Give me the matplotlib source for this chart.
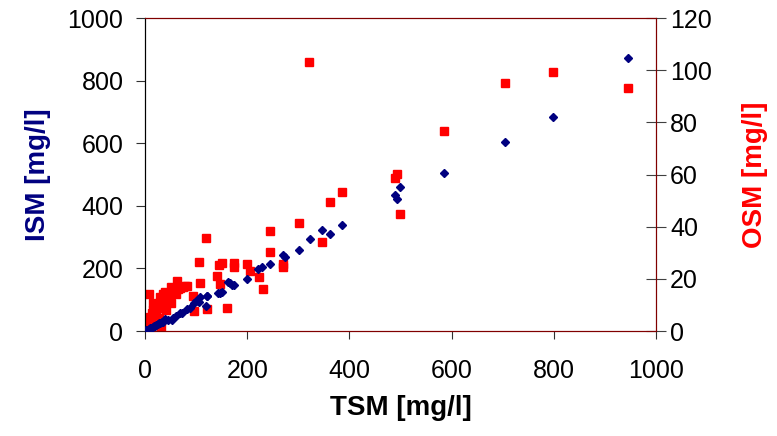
import matplotlib
matplotlib.use('Agg')
import matplotlib.pyplot as plt

plt.rcParams['font.family'] = ['Liberation Sans', 'DejaVu Sans']

# TSM vs ISM (left axis)
tsm_ism = [2, 5, 8, 10, 12, 15, 18, 20, 22, 25, 28, 30, 33, 36, 39, 45, 52, 55, 60, 68,
           72, 82, 88, 95, 100, 106, 107, 119, 121, 122, 143, 147, 150, 162, 166, 170, 174,
           199, 222, 229, 245, 271, 273, 302, 322, 346, 363, 386, 489, 494, 499, 585, 704,
           799, 945]
ism = [2, 4, 7, 9, 10, 12, 15, 17, 19, 22, 24, 26, 29, 30, 37, 35, 35, 40, 47, 56,
       57, 69, 75, 88, 95, 94, 110, 81, 112, 113, 120, 121, 125, 157, 154, 148, 147,
       167, 199, 204, 214, 243, 238, 258, 293, 323, 310, 338, 434, 421, 459, 506, 603,
       683, 871]

# TSM vs OSM (right axis)
tsm_osm = [0, 2, 4, 5, 8, 10, 12, 14, 16, 18, 20, 22, 25, 28, 30, 32, 36, 40, 42, 45,
           48, 50, 55, 60, 65, 69, 74, 78, 82, 8.4, 16, 30, 35, 40, 50, 62, 94.5, 96.5,
           105, 108, 119, 121, 141.5, 144, 147, 150.5, 161, 174, 174, 199, 205.5, 223,
           230, 244.6, 244.6, 271, 271, 301, 321.6, 345.7, 363, 385.5, 489, 494, 499,
           585, 704, 799, 945]
osm = [1.5, 3, 1, 4, 2, 5.5, 3, 7, 8, 4, 2.3, 6, 9, 5, 10, 1.6, 12, 9, 8, 13,
       11, 10.6, 15, 14, 16, 16.4, 17, 17.3, 17.3, 14, 10.6, 13, 14, 15, 17, 19, 13.5, 7.8,
       26.6, 18.5, 35.8, 8.3, 21.2, 25.3, 17.9, 26, 8.8, 26, 24.4, 25.7, 23.1, 20.8,
       16, 38.5, 30.4, 25.7, 24.4, 41.5, 103, 34.2, 49.6, 53.2, 58.8, 60.3, 45,
       76.7, 95, 99.3, 93]

fig = plt.figure(figsize=(7.77, 4.36), dpi=100)
ax = fig.add_axes([0.1866, 0.2408, 0.6577, 0.7179])
ax2 = ax.twinx()

ax.plot(tsm_ism, ism, linestyle='none', marker='D', markersize=4, color='#000080', zorder=3)
ax2.plot(tsm_osm, osm, linestyle='none', marker='s', markersize=5.8, color='#ff0000', zorder=2)
ax.set_zorder(ax2.get_zorder() + 1)
ax.patch.set_visible(False)

ax.set_xlim(0, 1000)
ax.set_ylim(0, 1000)
ax2.set_ylim(0, 120)
ax.set_xticks([0, 200, 400, 600, 800, 1000])
ax.set_yticks([0, 200, 400, 600, 800, 1000])
ax2.set_yticks([0, 20, 40, 60, 80, 100, 120])

for a in (ax, ax2):
    for s in ('top', 'right', 'bottom'):
        a.spines[s].set_color('#800000')
    a.spines['left'].set_color('black')

ax.tick_params(axis='y', labelsize=18, direction='out', length=6.5, color='#303030', pad=9)
ax.tick_params(axis='x', labelsize=18, direction='out', length=6, color='#303030', pad=14)
ax2.tick_params(axis='y', labelsize=18, direction='inout', length=14, color='#404040', pad=3)

ax.set_xlabel('TSM [mg/l]', fontsize=20, fontweight='bold', labelpad=9)
ax.set_ylabel('ISM [mg/l]', fontsize=20, fontweight='bold', color='#000080', labelpad=12)
ax2.set_ylabel('OSM [mg/l]', fontsize=20, fontweight='bold', color='#ff0000', labelpad=22)

fig.savefig('out.png', dpi=100)
